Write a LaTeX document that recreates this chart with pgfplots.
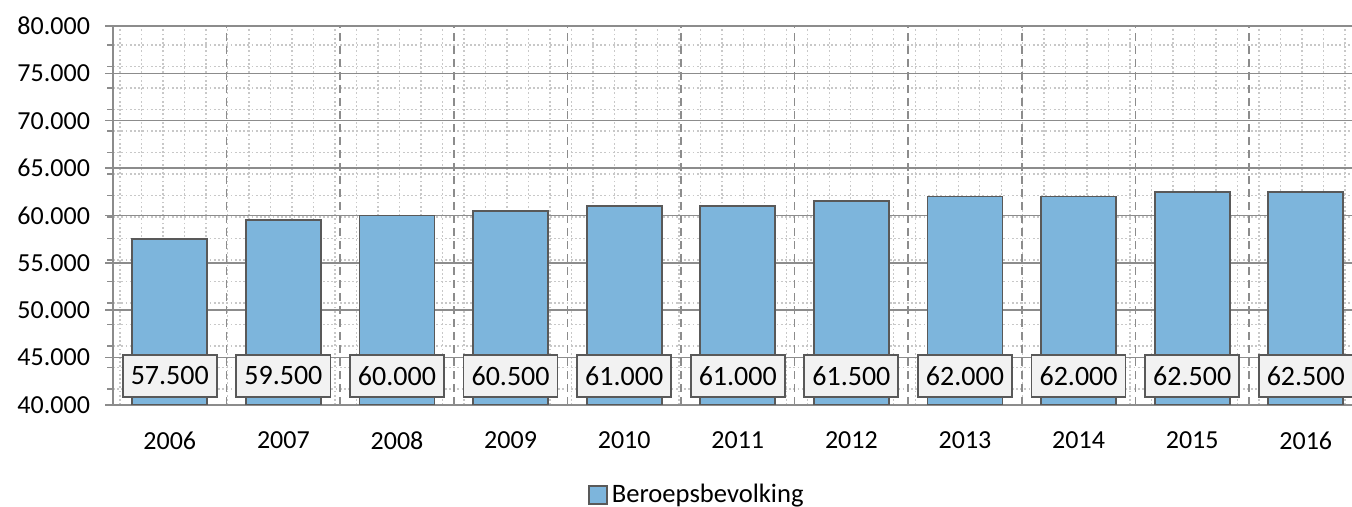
\documentclass[border=0pt]{standalone}
\usepackage{fontspec}
\setmainfont{Carlito}
\usepackage{pgfplots}
\usepackage{pgfplotstable}
\pgfplotsset{compat=1.18}

\definecolor{barblue}{HTML}{7DB5DC}
\definecolor{bardark}{HTML}{595959}
\definecolor{axgray}{HTML}{8C8C8C}
\definecolor{mingray}{HTML}{C8C8C8}
\definecolor{boxfill}{HTML}{F2F2F2}

% Beroepsbevolking per jaar
\pgfplotstableread{
x v
0 57500
1 59500
2 60000
3 60500
4 61000
5 61000
6 61500
7 62000
8 62000
9 62500
10 62500
}\datatable

\begin{document}
\begin{tikzpicture}
\begin{axis}[
  name=ax,
  at={(0,0)}, anchor=south west,
  scale only axis,
  width=619.5pt, height=189.5pt,
  xmin=-0.5, xmax=10.407,
  ymin=40000, ymax=80000,
  axis lines*=left,
  axis line style={-, draw=axgray, line width=0.75pt},
  font=\fontsize{13}{15}\selectfont,
  xtick={0,...,10},
  xticklabels={2006,2007,2008,2009,2010,2011,2012,2013,2014,2015,2016},
  x tick style={draw=none},
  xticklabel style={yshift=-6pt},
  extra x ticks={-0.5,0.5,...,9.5},
  extra x tick labels={},
  extra x tick style={
    grid=major,
    major grid style={draw=axgray, line width=0.75pt, dash pattern=on 4pt off 2.5pt},
    tick style={draw=axgray, line width=0.75pt},
    major tick length=4pt,
    tick align=outside,
  },
  minor xtick={-0.4384,-0.2492,...,10.41},
  ytick={40000,45000,...,80000},
  minor ytick={41707,43975,...,80000},
  y tick style={draw=axgray, line width=0.75pt},
  major tick length=4pt,
  tick align=outside,
  ymajorgrids,
  xminorgrids, yminorgrids,
  major grid style={draw=axgray, line width=0.75pt},
  minor grid style={draw=mingray, line width=0.7pt, dash pattern=on 0.9pt off 1.2pt},
  scaled y ticks=false,
  yticklabel style={/pgf/number format/.cd, fixed, precision=0, 1000 sep={.}, assume math mode=true},
  yticklabel shift=4pt,
  legend style={at={(0.472,-0.237)}, anchor=center, draw=none, fill=none,
    font=\fontsize{13.3}{15}\selectfont, inner sep=0pt},
  legend image code/.code={\draw[#1] (0pt,-4.5pt) rectangle (9pt,4.5pt);},
]
\addplot[ybar, bar width=37.5pt, fill=barblue, draw=bardark, line width=0.9pt]
  table[x=x, y=v] {\datatable};
\addlegendentry{Beroepsbevolking}

% value labels, set in a row near the foot of the bars
\addplot[forget plot, draw=none, mark=none,
  point meta=explicit,
  nodes near coords={\pgfmathprintnumber[fixed, precision=0, 1000 sep={.}, assume math mode=true]{\pgfplotspointmeta}},
  every node near coord/.style={anchor=center, fill=boxfill, draw=bardark, line width=0.9pt,
    minimum width=47pt, minimum height=21pt, inner sep=0pt, font=\fontsize{14}{16}\selectfont},
] table[x=x, y expr=43060, meta=v] {\datatable};
\end{axis}
\pgfresetboundingbox
\path[use as bounding box] ([xshift=-56.5pt,yshift=-51pt]ax.south west) rectangle ([yshift=13pt]ax.north east);
\end{tikzpicture}
\end{document}
